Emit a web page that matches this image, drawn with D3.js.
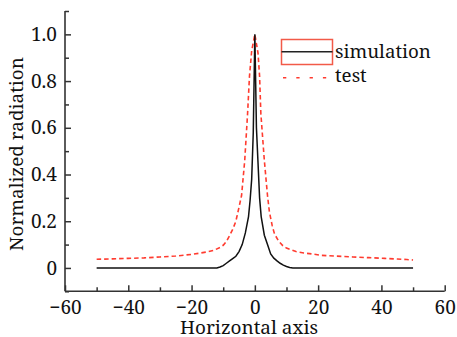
<!DOCTYPE html>
<html>
<head>
<meta charset="utf-8">
<script src="https://cdn.jsdelivr.net/npm/d3@7"></script>
<style>
  html, body { margin: 0; padding: 0; background: #fff; }
  svg { display: block; }
</style>
</head>
<body>
<svg id="chart" width="457" height="337"></svg>
<script>
// ---- data ----
const simX = [-50, -12, -11, -10, -9, -8, -7, -6, -5, -4, -3, -2, -1.5, -1, -0.5, 0, 0.5, 1, 1.5, 2, 3, 4, 5, 6, 7, 8, 9, 10, 11, 12, 50];
const simY = [0, 0, 0.004, 0.01, 0.02, 0.03, 0.04, 0.05, 0.07, 0.1, 0.15, 0.22, 0.29, 0.38, 0.58, 1.0, 0.6, 0.45, 0.3, 0.22, 0.14, 0.1, 0.06, 0.042, 0.03, 0.02, 0.012, 0.006, 0.002, 0, 0];

const testX = [-50, -45, -40, -35, -30, -25, -20, -17.5, -15, -13, -11, -10, -9, -8, -7, -6, -5, -4.2, -3.2, -2.3, -1.7, -1, 0, 1, 1.5, 1.9, 3, 4, 4.6, 5.5, 6.2, 7.5, 8.8, 10, 13, 15.5, 18, 21, 25, 31, 36, 41, 45, 48, 50];
const testY = [0.037, 0.039, 0.041, 0.043, 0.047, 0.051, 0.058, 0.063, 0.069, 0.075, 0.088, 0.097, 0.113, 0.138, 0.165, 0.2, 0.26, 0.31, 0.46, 0.66, 0.82, 0.93, 1.0, 0.92, 0.82, 0.66, 0.46, 0.31, 0.24, 0.18, 0.146, 0.115, 0.096, 0.085, 0.07, 0.064, 0.06, 0.054, 0.051, 0.047, 0.044, 0.041, 0.038, 0.036, 0.034];

const xTicks = [-60, -40, -20, 0, 20, 40, 60];
const xMinor = [-50, -30, -10, 10, 30, 50];
const yTicks = [0, 0.2, 0.4, 0.6, 0.8, 1.0];
const yMinor = [-0.1, 0.1, 0.3, 0.5, 0.7, 0.9, 1.1];
const seriesNames = ["simulation", "test"];
const xTitle = "Horizontal axis";
const yTitle = "Normalized radiation";

// ---- layout ----
const FONT = "'Noto Serif', 'DejaVu Serif', 'Liberation Serif', serif";
const svg = d3.select("#chart");
const mLeft = 65, mRight = 444.7, mTop = 11, mBottom = 291.3;
const x = d3.scaleLinear().domain([-60, 60]).range([mLeft, mRight]);
const y = d3.scaleLinear().domain([-0.1, 1.1]).range([mBottom, mTop]);
const axisColor = "#333";
const red = "#ff3b2f";

// scale a text's font size so its rendered width matches a target width
function fit(sel, target) {
  const w = sel.node().getComputedTextLength();
  const fs = parseFloat(sel.attr("font-size"));
  if (w > 0) sel.attr("font-size", (fs * target / w).toFixed(2));
  return sel;
}

// axes
const fmtX = d => d < 0 ? "\u2212" + Math.abs(d) : String(d);
const fmtY = d => d === 0 ? "0" : d3.format(".1f")(d);

const gx = svg.append("g").attr("transform", `translate(0,${mBottom})`)
  .call(d3.axisBottom(x).tickValues(xTicks).tickSize(-6).tickPadding(9).tickFormat(fmtX));
const gxm = svg.append("g").attr("transform", `translate(0,${mBottom})`)
  .call(d3.axisBottom(x).tickValues(xMinor).tickSize(-4).tickFormat(""));
const gy = svg.append("g").attr("transform", `translate(${mLeft},0)`)
  .call(d3.axisLeft(y).tickValues(yTicks).tickSize(-6).tickPadding(8).tickFormat(fmtY));
const gym = svg.append("g").attr("transform", `translate(${mLeft},0)`)
  .call(d3.axisLeft(y).tickValues(yMinor).tickSize(-4).tickFormat(""));

[gx, gxm, gy, gym].forEach(g => {
  g.attr("font-family", FONT).attr("font-size", 19);
  g.select(".domain").remove();
  g.selectAll(".tick line").attr("stroke", axisColor).attr("stroke-width", 1.5);
  g.selectAll("text").attr("fill", "#111");
});

svg.append("line").attr("x1", mLeft).attr("x2", mRight).attr("y1", mBottom).attr("y2", mBottom)
  .attr("stroke", axisColor).attr("stroke-width", 1.6);
svg.append("line").attr("x1", mLeft).attr("x2", mLeft).attr("y1", mTop).attr("y2", mBottom)
  .attr("stroke", axisColor).attr("stroke-width", 1.6);

// lines
const line = d3.line().x(d => x(d[0])).y(d => y(d[1]));
svg.append("path").datum(testX.map((v, i) => [v, testY[i]]))
  .attr("d", line).attr("fill", "none").attr("stroke", red)
  .attr("stroke-width", 1.6).attr("stroke-dasharray", "4.5,3");
svg.append("path").datum(simX.map((v, i) => [v, simY[i]]))
  .attr("d", line).attr("fill", "none").attr("stroke", "#111")
  .attr("stroke-width", 1.5);

// legend
const lg = svg.append("g").attr("font-family", FONT);
lg.append("rect").attr("x", 281.5).attr("y", 39.5).attr("width", 51).attr("height", 25)
  .attr("fill", "none").attr("stroke", "#f25a48").attr("stroke-width", 1.5);
lg.append("line").attr("x1", 281.5).attr("x2", 332.5).attr("y1", 51.7).attr("y2", 51.7)
  .attr("stroke", "#222").attr("stroke-width", 1.5);
lg.append("line").attr("x1", 283).attr("x2", 332).attr("y1", 77.7).attr("y2", 77.7)
  .attr("stroke", red).attr("stroke-width", 1.5).attr("stroke-dasharray", "3.3,10");
const t1 = lg.append("text").attr("x", 335).attr("y", 57.5).attr("font-size", 19.5).attr("fill", "#111").text(seriesNames[0]);
fit(t1, 96);
lg.append("text").attr("x", 335).attr("y", 81.5).attr("font-size", t1.attr("font-size")).attr("fill", "#111").text(seriesNames[1]);

// titles
const xt = svg.append("text").attr("x", 249).attr("y", 334).attr("text-anchor", "middle")
  .attr("font-family", FONT).attr("font-size", 18.5).attr("fill", "#111").text(xTitle);
fit(xt, 138);
const yt = svg.append("text").attr("transform", "translate(23,154) rotate(-90)")
  .attr("text-anchor", "middle").attr("font-family", FONT).attr("font-size", 18.5)
  .attr("fill", "#111").text(yTitle);
fit(yt, 194);
</script>
</body>
</html>
